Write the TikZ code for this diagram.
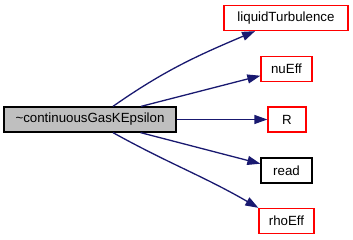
\documentclass[tikz,border=0pt]{standalone}
\usepackage{fontspec}
\setmainfont{Liberation Sans}
\usetikzlibrary{arrows.meta,calc}

\definecolor{callblue}{HTML}{191970}
\definecolor{linkred}{HTML}{FF0000}
\definecolor{selfgray}{HTML}{BFBFBF}

\begin{document}
\begin{tikzpicture}[x=1pt,y=1pt,>={Triangle[length=13pt,width=9pt]},
    fn/.style={draw=linkred,line width=1.3pt,fill=white,inner sep=0pt,
        minimum height=25pt,font=\fontsize{13.3}{16}\selectfont},
    call/.style={->,callblue,line width=1.3pt}]
    \useasboundingbox (0,0) rectangle (353,240);

    % === Caller ===
    \node[fn,draw=black,fill=selfgray,minimum width=172pt] (self) at (90,120.5)
        {\textasciitilde continuousGasKEpsilon};

    % === Callees ===
    \node[fn,minimum width=124pt] (liquidTurbulence) at (286,222) {liquidTurbulence};
    \node[fn,minimum width=51pt] (nuEff) at (286.5,171) {nuEff};
    \node[fn,minimum width=38pt] (R) at (287,120.5) {R};
    \node[fn,draw=black,minimum width=51pt] (read) at (286.5,69.5) {read};
    \node[fn,minimum width=55pt] (rhoEff) at (286.5,19) {rhoEff};

    % Call edges
    \draw[call] ($(self.north)+(23,0)$) to[out=35,in=203] (liquidTurbulence);
    \draw[call] (self) -- (nuEff);
    \draw[call] (self) -- (R);
    \draw[call] (self) -- (read);
    \draw[call] ($(self.south)+(23,0)$) to[out=-29,in=150] (rhoEff.north west);
\end{tikzpicture}
\end{document}
